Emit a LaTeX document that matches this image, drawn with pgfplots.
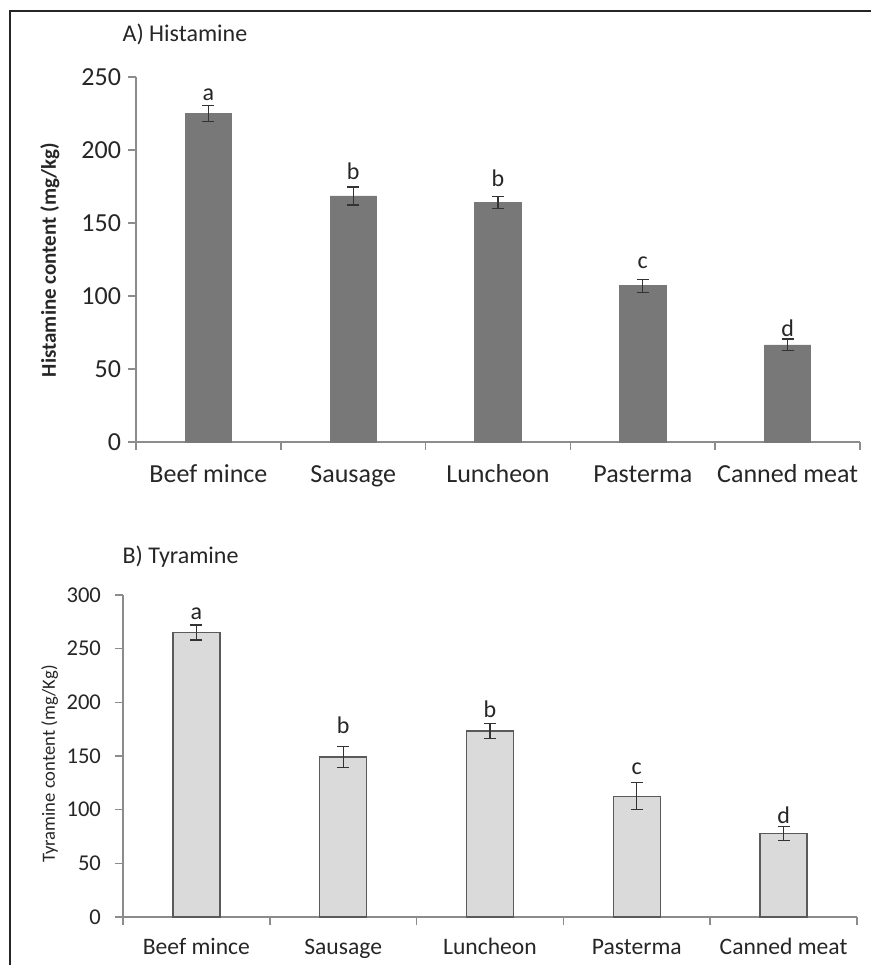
\documentclass[border=0pt]{standalone}
\usepackage{fontspec}
\setmainfont{Carlito}
\usepackage{pgfplots}
\pgfplotsset{compat=1.18}
\definecolor{axgray}{HTML}{8C8C8C}
\definecolor{histgray}{HTML}{787878}
\definecolor{tyrfill}{HTML}{DADADA}
\definecolor{tyredge}{HTML}{5A5A5A}
\definecolor{txt}{HTML}{262626}
\pgfplotsset{
  panel/.style={
    scale only axis,
    xmin=-0.5, xmax=4.5, ymin=0,
    axis x line*=bottom, axis y line*=left,
    axis line style={axgray, line width=0.75pt},
    tick style={axgray, line width=0.75pt},
    tick align=outside,
    major tick length=4pt,
    xtick={-0.5,0.5,1.5,2.5,3.5,4.5},
    xticklabels={,,,,,},
    extra x ticks={0,1,2,3,4},
    extra x tick labels={Beef mince,Sausage,Luncheon,Pasterma,Canned meat},
    /pgf/number format/assume math mode=true,
    every axis title/.style={anchor=base west, inner sep=0pt},
    clip=false,
  },
}
\begin{document}
\begin{tikzpicture}
\path[use as bounding box] (0,0) rectangle (435.5pt,482.5pt);
% Panel A
\begin{axis}[panel,
  at={(68pt,261.5pt)}, anchor=south west,
  width=362pt, height=182.5pt,
  ymax=250, ytick={0,50,...,250},
  ticklabel style={font=\fontsize{13}{15}\selectfont, text=txt},
  extra x tick style={major tick length=0pt, tick label style={anchor=base, yshift=-20.5pt}},
  title={A) Histamine},
  title style={at={(axis description cs:-0.019,1.097)}, font=\fontsize{12}{14}\selectfont, text=txt},
  ylabel={Histamine content (mg/kg)},
  every axis y label/.style={at={(axis description cs:-0.119,0.499)}, rotate=90, anchor=center, font=\bfseries\fontsize{10.5}{12}\selectfont, text=txt},
]
\addplot[ybar, bar width=0.32, fill=histgray, draw=histgray,
  error bars/.cd, y dir=both, y explicit,
  error bar style={draw=black!80, line width=0.6pt},
  error mark options={rotate=90, mark size=3pt, draw=black!80, line width=0.6pt}]
  coordinates {(0,225) +- (0,5.5) (1,168.5) +- (0,6.2) (2,164) +- (0,4) (3,107) +- (0,4.5) (4,66.5) +- (0,4)};
\addplot[draw=none, mark=none, nodes near coords, point meta=explicit symbolic,
  every node near coord/.append style={anchor=base, inner sep=0pt, font=\fontsize{12}{14}\selectfont, text=txt}]
  table[meta=lab] {
x y lab
0 234.2 a
1 179.5 b
2 174.9 b
3 119 c
4 72.6 d
};
\end{axis}
% Panel B
\begin{axis}[panel,
  at={(61.5pt,24pt)}, anchor=south west,
  width=367pt, height=161pt,
  ymax=300, ytick={0,50,...,300},
  yticklabel style={font=\fontsize{11.3}{13}\selectfont, text=txt, xshift=-3.5pt},
  xticklabel style={font=\fontsize{11.8}{13}\selectfont, text=txt},
  extra x tick style={major tick length=0pt, tick label style={anchor=base, yshift=-18.5pt}},
  title={B) Tyramine},
  title style={at={(axis description cs:-0.001,1.099)}, font=\fontsize{12}{14}\selectfont, text=txt},
  ylabel={Tyramine content (mg/Kg)},
  every axis y label/.style={at={(axis description cs:-0.100,0.475)}, rotate=90, anchor=center, font=\fontsize{9.3}{11}\selectfont, text=txt},
]
\addplot[ybar, bar width=0.32, fill=tyrfill, draw=tyredge, line width=0.75pt,
  error bars/.cd, y dir=both, y explicit,
  error bar style={draw=black!80, line width=0.6pt},
  error mark options={rotate=90, mark size=3pt, draw=black!80, line width=0.6pt}]
  coordinates {(0,265) +- (0,7) (1,149) +- (0,9.5) (2,173.5) +- (0,7) (3,112.5) +- (0,12.5) (4,78) +- (0,6.5)};
\addplot[draw=none, mark=none, nodes near coords, point meta=explicit symbolic,
  every node near coord/.append style={anchor=base, inner sep=0pt, font=\fontsize{12}{14}\selectfont, text=txt}]
  table[meta=lab] {
x y lab
0 277.5 a
1 171.3 b
2 185.6 b
3 133 c
4 87.5 d
};
\end{axis}
\draw[line width=1pt, black!85] (5pt,0pt) -- (5pt,477pt) -- (435.5pt,477pt);
\end{tikzpicture}
\end{document}
